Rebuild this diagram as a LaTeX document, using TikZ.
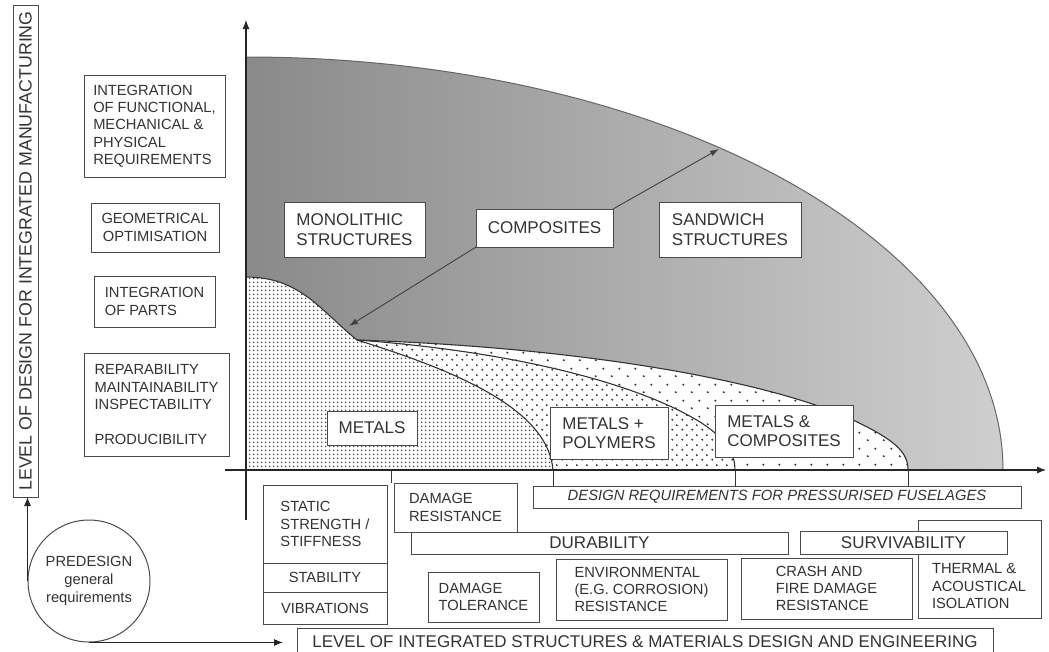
\documentclass[tikz,border=0pt]{standalone}
\usepackage{fontspec}
\setmainfont{Liberation Sans}
\usetikzlibrary{patterns.meta,arrows.meta}
\tikzdeclarepattern{name=dotsA,type=uncolored,bottom left={(0pt,0pt)},top right={(4pt,4pt)},tile size={(4pt,4pt)},
  code={\pgfpathcircle{\pgfpoint{2pt}{2pt}}{1pt}\pgfusepath{fill}}}
\tikzdeclarepattern{name=dotsB,type=uncolored,bottom left={(0pt,0pt)},top right={(10pt,10pt)},tile size={(10pt,10pt)},
  code={\pgfpathcircle{\pgfpoint{2.5pt}{2.5pt}}{1.15pt}\pgfusepath{fill}\pgfpathcircle{\pgfpoint{7.5pt}{7.5pt}}{1.15pt}\pgfusepath{fill}}}
\tikzdeclarepattern{name=dotsC,type=uncolored,bottom left={(0pt,0pt)},top right={(16pt,16pt)},tile size={(16pt,16pt)},
  code={\pgfpathcircle{\pgfpoint{4pt}{4pt}}{1.2pt}\pgfusepath{fill}\pgfpathcircle{\pgfpoint{12pt}{12pt}}{1.2pt}\pgfusepath{fill}}}
\definecolor{ink}{HTML}{333333}
\definecolor{edge}{HTML}{4A4A4A}
\begin{document}
\begin{tikzpicture}[x=1pt,y=-1pt,
  box/.style={draw=edge,line width=1pt,fill=white,text=ink,inner sep=0pt,outer sep=0pt},
  fs/.style={font=\fontsize{14.7}{17.3}\selectfont},
  fm/.style={font=\fontsize{17}{19.5}\selectfont},
  axis/.style={draw=black!85,line width=1.1pt},
  tip/.style={-{Latex[length=9pt,width=7pt]}},
  curve/.style={draw=black!80,line width=1.1pt}]
\useasboundingbox (0,0) rectangle (1049,651);

% gray region
\shade[left color=black!46,right color=black!19,draw=black!60,line width=1pt]
  (246,470) -- (246,57) arc[start angle=90,end angle=0,x radius=757pt,y radius=413pt] -- cycle;

% metals & composites
\path[fill=white] (246,470) -- (246,277) .. controls (300,277) and (320,310) .. (357,340)
  .. controls (600,348) and (780,385) .. (853,420) .. controls (895,440) and (908,452) .. (908,470) -- cycle;
\path[pattern=dotsC,pattern color=black!80] (246,470) -- (246,277) .. controls (300,277) and (320,310) .. (357,340)
  .. controls (600,348) and (780,385) .. (853,420) .. controls (895,440) and (908,452) .. (908,470) -- cycle;
% metals + polymers
\path[fill=white] (246,470) -- (246,277) .. controls (300,277) and (320,310) .. (357,340)
  .. controls (520,352) and (640,385) .. (700,422) .. controls (728,440) and (735,455) .. (735,470) -- cycle;
\path[pattern=dotsB,pattern color=black!80] (246,470) -- (246,277) .. controls (300,277) and (320,310) .. (357,340)
  .. controls (520,352) and (640,385) .. (700,422) .. controls (728,440) and (735,455) .. (735,470) -- cycle;
% metals
\path[fill=white] (246,470) -- (246,277) .. controls (300,277) and (320,310) .. (357,340)
  .. controls (460,372) and (548,410) .. (553,470) -- cycle;
\path[pattern=dotsA,pattern color=black!72] (246,470) -- (246,277) .. controls (300,277) and (320,310) .. (357,340)
  .. controls (460,372) and (548,410) .. (553,470) -- cycle;

% boundary curves
\draw[curve] (246,277) .. controls (300,277) and (320,310) .. (357,340)
  .. controls (600,348) and (780,385) .. (853,420) .. controls (895,440) and (908,452) .. (908,470);
\draw[curve] (357,340) .. controls (520,352) and (640,385) .. (700,422) .. controls (728,440) and (735,455) .. (735,470);
\draw[curve] (357,340) .. controls (460,372) and (548,410) .. (553,470);

% axes
\draw[axis,tip] (246,520) -- (246,20);
\draw[axis,tip] (225,470) -- (1046,470);

% separators below the axis
\foreach \xx/\yy in {391/483,553/486,735/486,908/486}
  \draw[draw=black!80,line width=1pt] (\xx,470) -- (\xx,\yy);

% left column
\node[box,fs,align=left,minimum width=141pt,minimum height=102pt] (b1) at (154.5,126)
  {INTEGRATION\\OF FUNCTIONAL,\\MECHANICAL \&\\PHYSICAL\\REQUIREMENTS};
\node[box,fs,align=center,minimum width=128pt,minimum height=49pt] (b2) at (155,227.5)
  {GEOMETRICAL\\OPTIMISATION};
\node[box,fs,align=left,minimum width=121pt,minimum height=51pt] (b3) at (154.5,301.5)
  {INTEGRATION\\OF PARTS};
\node[box,fs,align=left,minimum width=145pt,minimum height=103pt] (b4) at (156.5,404.5)
  {REPARABILITY\\MAINTAINABILITY\\INSPECTABILITY\\[17.3pt]PRODUCIBILITY};

% vertical label
\node[box,rotate=90,font=\fontsize{17.8}{20}\selectfont,minimum width=492pt,minimum height=25pt] (lab) at (25.5,251)
  {LEVEL OF DESIGN FOR INTEGRATED MANUFACTURING};

% central boxes
\node[box,fm,align=left,minimum width=141pt,minimum height=55pt] (mo) at (354.5,229.5) {MONOLITHIC\\STRUCTURES};
\node[box,fm,minimum width=137pt,minimum height=38pt] (co) at (544.5,228) {COMPOSITES};
\node[box,fm,align=left,minimum width=142pt,minimum height=55pt] (sa) at (730,229.5) {SANDWICH\\STRUCTURES};
\node[box,fm,minimum width=90pt,minimum height=34pt] (me) at (372,428) {METALS};
\node[box,fm,align=left,minimum width=118pt,minimum height=52pt] (mp) at (609,433) {METALS +\\POLYMERS};
\node[box,fm,align=left,minimum width=138pt,minimum height=52pt] (mc) at (784,431) {METALS \&\\COMPOSITES};

\coordinate (tipS) at (719,149);
\coordinate (tipM) at (349,326);
\draw[draw=black!75,line width=0.9pt,-{Latex[length=9pt,width=6pt]}] (co.north east) -- (tipS);
\draw[draw=black!75,line width=0.9pt,-{Latex[length=9pt,width=6pt]}] (co.south west) -- (tipM);

% bottom requirement boxes
\node[box,fs,align=left,minimum width=124pt,minimum height=78pt] (st1) at (325,524) {STATIC\\STRENGTH /\\STIFFNESS};
\node[box,fs,minimum width=124pt,minimum height=29pt] (st2) at (325,577.5) {STABILITY};
\node[box,fs,minimum width=124pt,minimum height=32pt] (st3) at (325,608) {VIBRATIONS};
\node[box,fs,align=left,minimum width=123pt,minimum height=49pt] (dr) at (455.5,507.5) {DAMAGE\\RESISTANCE};
\node[box,fs,font=\fontsize{14.8}{17}\selectfont\itshape,minimum width=488pt,minimum height=22pt] (dq) at (777,497)
  {DESIGN REQUIREMENTS FOR PRESSURISED FUSELAGES};
\node[box,fm,minimum width=377pt,minimum height=22pt] (du) at (599.5,543) {DURABILITY};
\node[box,minimum width=123pt,minimum height=98pt] (th) at (979.5,569) {};
\node[fs,text=ink,align=left] (tht) at (979,586) {THERMAL \&\\ACOUSTICAL\\ISOLATION};
\node[box,fm,minimum width=207pt,minimum height=23pt] (sv) at (903.5,542.5) {SURVIVABILITY};
\node[box,fs,align=left,minimum width=111pt,minimum height=50pt] (dt) at (483.5,597) {DAMAGE\\TOLERANCE};
\node[box,fs,align=left,minimum width=171pt,minimum height=61pt] (en) at (641.5,589.5)
  {ENVIRONMENTAL\\(E.G. CORROSION)\\RESISTANCE};
\node[box,fs,align=left,minimum width=171pt,minimum height=61pt] (cr) at (826.5,588.5)
  {CRASH AND\\FIRE DAMAGE\\RESISTANCE};
\node[box,fm,minimum width=696pt,minimum height=28pt] (lv) at (645,642)
  {LEVEL OF INTEGRATED STRUCTURES \& MATERIALS DESIGN AND ENGINEERING};

% predesign
\node[circle,draw=edge,line width=1pt,fill=white,text=ink,minimum size=122pt,inner sep=0pt,align=center,
  font=\fontsize{14.7}{18}\selectfont] (pre) at (89,581) {PREDESIGN\\general\\requirements};
\draw[axis,line width=1pt,tip,shorten >=14pt] (pre.south) -- (pre.south -| lv.west);
\draw[axis,line width=1pt,tip] (pre.west) -- (pre.west |- lab.west);
\end{tikzpicture}
\end{document}
